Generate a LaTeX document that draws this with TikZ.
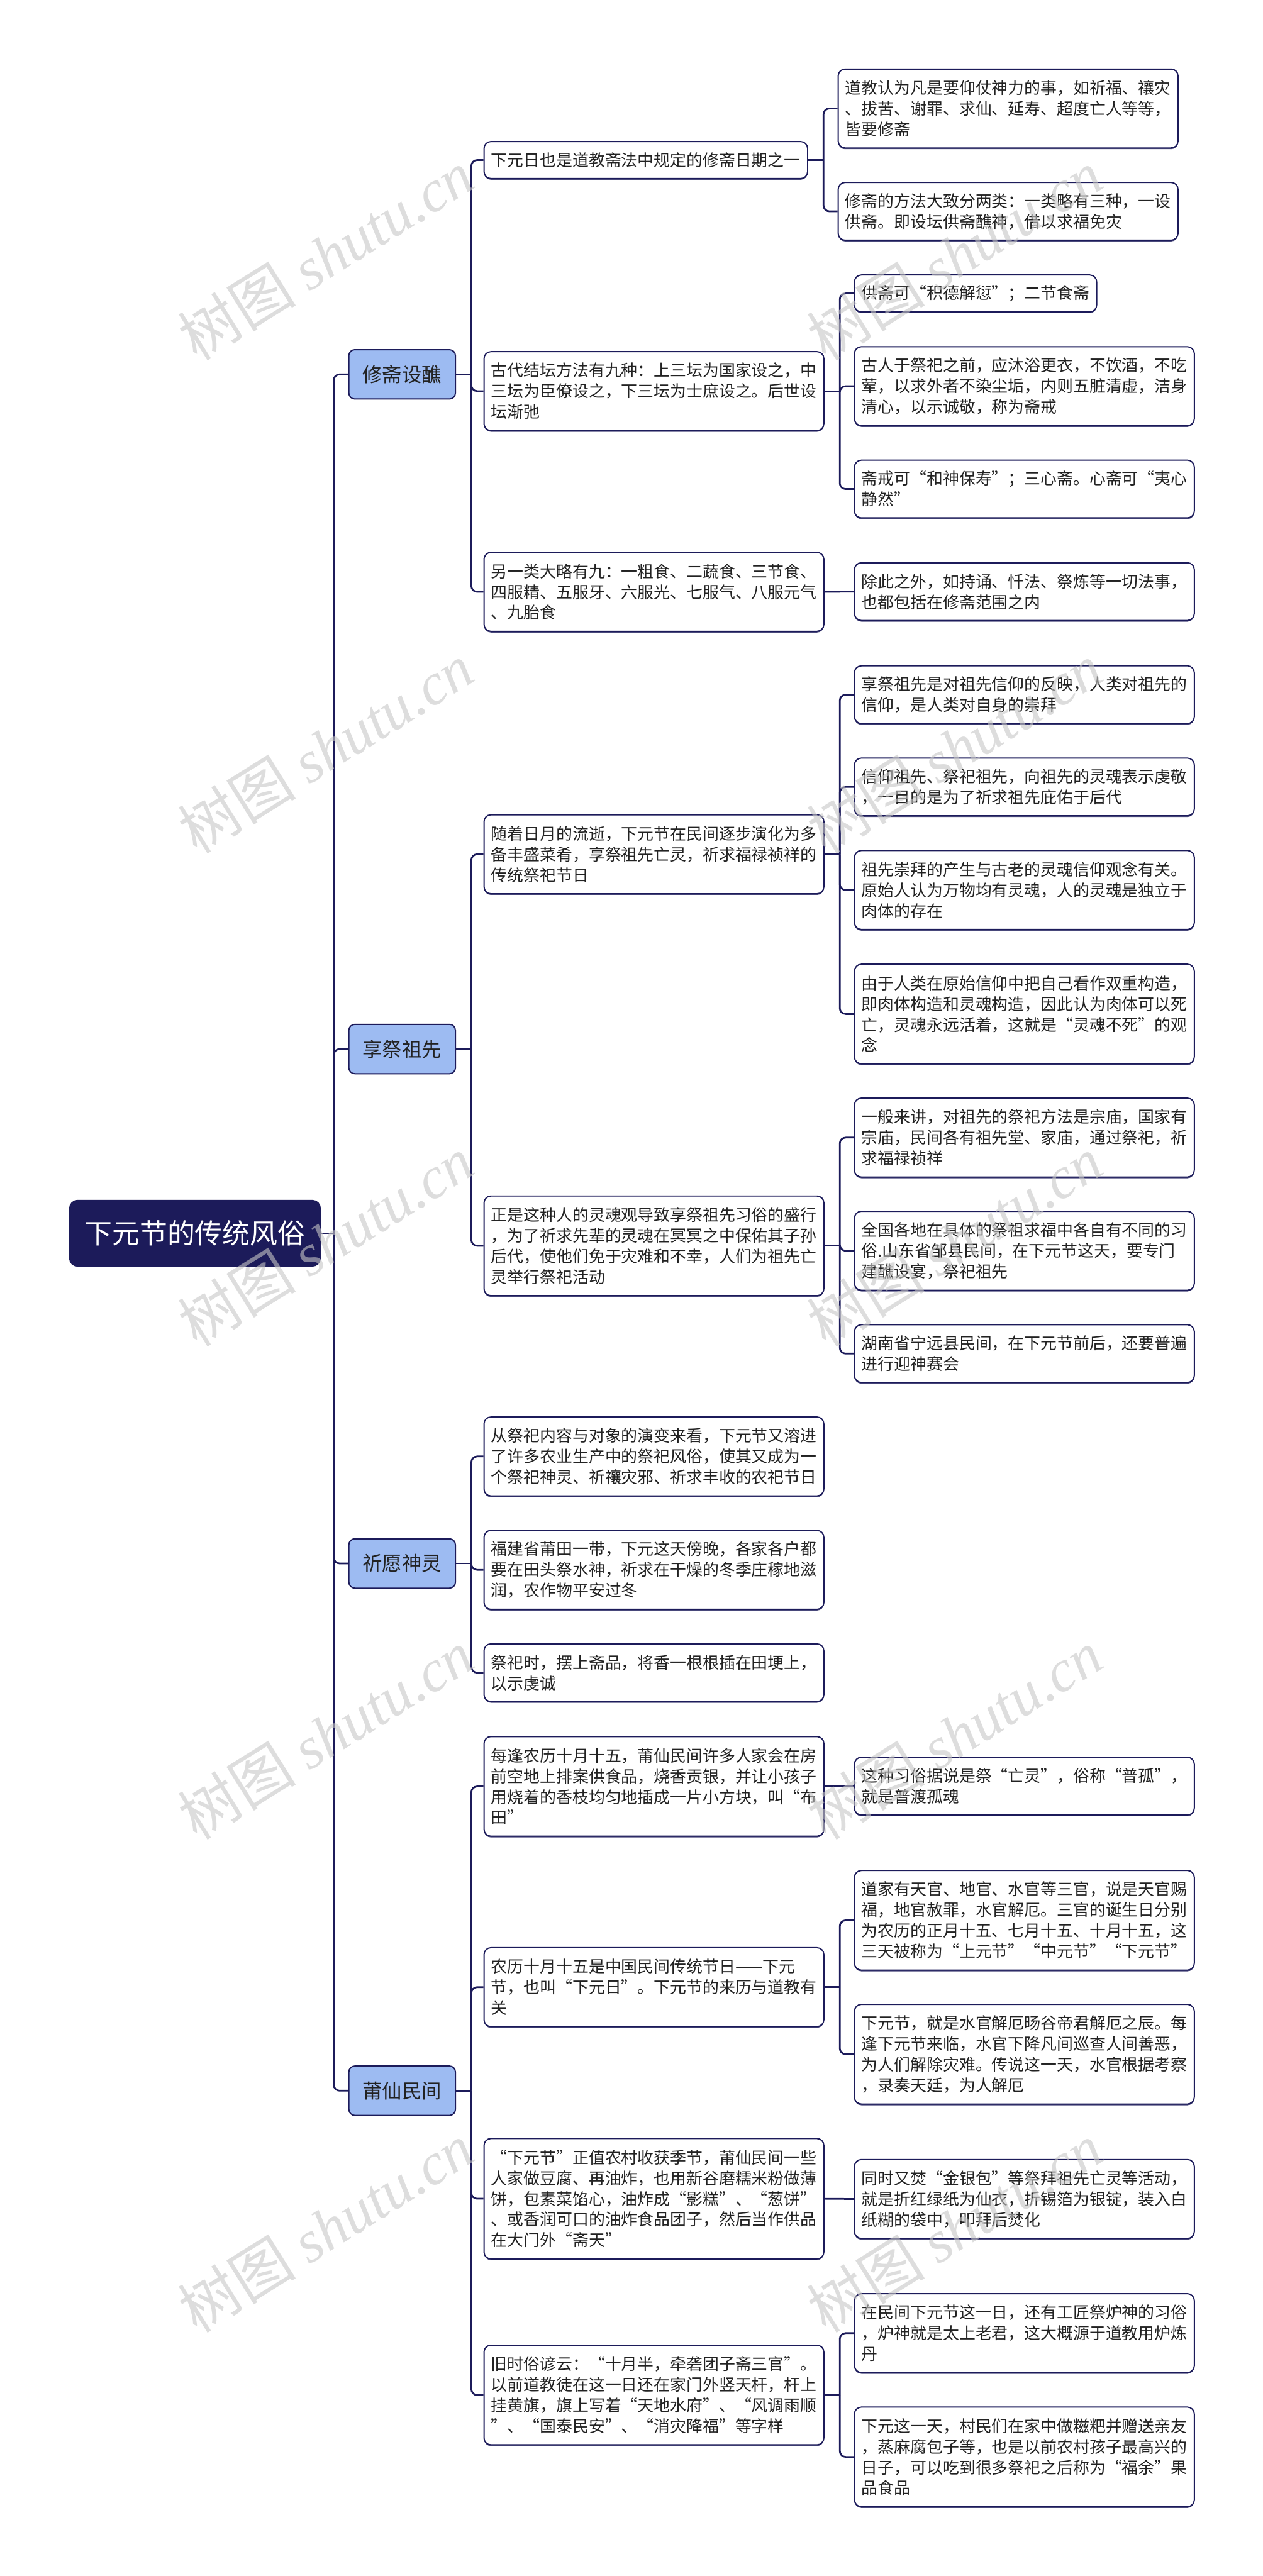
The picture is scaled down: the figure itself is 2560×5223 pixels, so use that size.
\documentclass[tikz,border=0pt]{standalone}
\usepackage{fontspec}
\setmainfont{Noto Sans CJK SC}
\newfontfamily\wmserif{Liberation Serif}
\newfontfamily\wmcjk{Noto Sans CJK SC}
\usetikzlibrary{shadows}
\definecolor{navy}{HTML}{1C1B5A}
\definecolor{lblue}{HTML}{9DBBF2}
\definecolor{txt}{HTML}{222222}
\tikzset{
  box/.style={draw=navy, line width=2.5pt, rounded corners=14pt, fill=white, anchor=west,
    inner xsep=14.5pt, inner ysep=0pt, align=left, text=txt,
    font=\fontsize{33}{42}\selectfont, text width=660pt,
    drop shadow={shadow xshift=0pt, shadow yshift=-2.5pt, fill=navy, opacity=0.8}},
  n1/.style={minimum height=75pt}, n2/.style={minimum height=117pt},
  n3/.style={minimum height=160pt}, n4/.style={minimum height=202pt},
  n5/.style={minimum height=244pt},
  rootbox/.style={draw=navy, fill=navy, line width=2.5pt, rounded corners=16pt, anchor=west,
    minimum width=508pt, minimum height=133pt, text=white, inner sep=0pt,
    font=\fontsize{56}{60}\selectfont},
  lone/.style={draw=navy, fill=lblue, line width=2.5pt, rounded corners=12pt, anchor=west,
    minimum width=216pt, minimum height=100pt, text=txt, inner sep=0pt,
    font=\fontsize{40}{44}\selectfont},
  conn/.style={draw=navy, line width=3.5pt, rounded corners=12pt},
  wm/.style={text=gray!45, opacity=0.6, rotate=32, inner sep=0pt,
    font=\fontsize{120}{120}\selectfont},
}
\begin{document}
\begin{tikzpicture}[x=1pt,y=-1pt]
\useasboundingbox (0,0) rectangle (2560,5223);

% root and level 1
\node[rootbox] (root) at (140,2500.5) {下元节的传统风俗};
\node[lone] (A) at (706,759) {修斋设醮};
\node[lone] (B) at (706,2127) {享祭祖先};
\node[lone] (C) at (706,3170) {祈愿神灵};
\node[lone] (D) at (706,4239) {莆仙民间};

% level 2
\node[box,n1,text width=627pt] (a1) at (980,324.5) {下元日也是道教斋法中规定的修斋日期之一};
\node[box,n3] (a2) at (980,793) {古代结坛方法有九种：上三坛为国家设之，中\\三坛为臣僚设之，下三坛为士庶设之。后世设\\坛渐弛};
\node[box,n3] (a3) at (980,1200) {另一类大略有九：一粗食、二蔬食、三节食、\\四服精、五服牙、六服光、七服气、八服元气\\、九胎食};
\node[box,n3] (b1) at (980,1732) {随着日月的流逝，下元节在民间逐步演化为多\\备丰盛菜肴，享祭祖先亡灵，祈求福禄祯祥的\\传统祭祀节日};
\node[box,n4] (b2) at (980,2526) {正是这种人的灵魂观导致享祭祖先习俗的盛行\\，为了祈求先辈的灵魂在冥冥之中保佑其子孙\\后代，使他们免于灾难和不幸，人们为祖先亡\\灵举行祭祀活动};
\node[box,n3] (c1) at (980,2953) {从祭祀内容与对象的演变来看，下元节又溶进\\了许多农业生产中的祭祀风俗，使其又成为一\\个祭祀神灵、祈禳灾邪、祈求丰收的农祀节日};
\node[box,n3] (c2) at (980,3183) {福建省莆田一带，下元这天傍晚，各家各户都\\要在田头祭水神，祈求在干燥的冬季庄稼地滋\\润，农作物平安过冬};
\node[box,n2] (c3) at (980,3391.5) {祭祀时，摆上斋品，将香一根根插在田埂上，\\以示虔诚};
\node[box,n4] (d1) at (980,3622) {每逢农历十月十五，莆仙民间许多人家会在房\\前空地上排案供食品，烧香贡银，并让小孩子\\用烧着的香枝均匀地插成一片小方块，叫“布\\田”};
\node[box,n3] (d2) at (980,4029) {农历十月十五是中国民间传统节日——下元\\节，也叫“下元日”。下元节的来历与道教有\\关};
\node[box,n5] (d3) at (980,4458) {“下元节”正值农村收获季节，莆仙民间一些\\人家做豆腐、再油炸，也用新谷磨糯米粉做薄\\饼，包素菜馅心，油炸成“影糕”、“葱饼”\\、或香润可口的油炸食品团子，然后当作供品\\在大门外“斋天”};
\node[box,n4] (d4) at (980,4856) {旧时俗谚云：“十月半，牵砻团子斋三官”。\\以前道教徒在这一日还在家门外竖天杆，杆上\\挂黄旗，旗上写着“天地水府”、“风调雨顺\\”、“国泰民安”、“消灾降福”等字样};

% level 3
\node[box,n3] (a11) at (1698,220) {道教认为凡是要仰仗神力的事，如祈福、禳灾\\、拔苦、谢罪、求仙、延寿、超度亡人等等，\\皆要修斋};
\node[box,n2] (a12) at (1698,428.5) {修斋的方法大致分两类：一类略有三种，一设\\供斋。即设坛供斋醮神，借以求福免灾};
\node[box,n1,text width=462pt] (a21) at (1731,595) {供斋可“积德解愆”；二节食斋};
\node[box,n3] (a22) at (1731,783) {古人于祭祀之前，应沐浴更衣，不饮酒，不吃\\荤，以求外者不染尘垢，内则五脏清虚，洁身\\清心，以示诚敬，称为斋戒};
\node[box,n2] (a23) at (1731,991.5) {斋戒可“和神保寿”；三心斋。心斋可“夷心\\静然”};
\node[box,n2] (a31) at (1731,1199.5) {除此之外，如持诵、忏法、祭炼等一切法事，\\也都包括在修斋范围之内};
\node[box,n2] (b11) at (1731,1408.5) {享祭祖先是对祖先信仰的反映，人类对祖先的\\信仰，是人类对自身的崇拜};
\node[box,n2] (b12) at (1731,1595.5) {信仰祖先、祭祀祖先，向祖先的灵魂表示虔敬\\，一目的是为了祈求祖先庇佑于后代};
\node[box,n3] (b13) at (1731,1804.5) {祖先崇拜的产生与古老的灵魂信仰观念有关。\\原始人认为万物均有灵魂，人的灵魂是独立于\\肉体的存在};
\node[box,n4] (b14) at (1731,2056) {由于人类在原始信仰中把自己看作双重构造，\\即肉体构造和灵魂构造，因此认为肉体可以死\\亡，灵魂永远活着，这就是“灵魂不死”的观\\念};
\node[box,n3] (b21) at (1731,2306.5) {一般来讲，对祖先的祭祀方法是宗庙，国家有\\宗庙，民间各有祖先堂、家庙，通过祭祀，祈\\求福禄祯祥};
\node[box,n3] (b22) at (1731,2536) {全国各地在具体的祭祖求福中各自有不同的习\\俗.山东省邹县民间，在下元节这天，要专门\\建醮设宴，祭祀祖先};
\node[box,n2] (b23) at (1731,2744.5) {湖南省宁远县民间，在下元节前后，还要普遍\\进行迎神赛会};
\node[box,n2] (d11) at (1731,3621.5) {这种习俗据说是祭“亡灵”，俗称“普孤”，\\就是普渡孤魂};
\node[box,n4] (d21) at (1731,3893.5) {道家有天官、地官、水官等三官，说是天官赐\\福，地官赦罪，水官解厄。三官的诞生日分别\\为农历的正月十五、七月十五、十月十五，这\\三天被称为“上元节”“中元节”“下元节”};
\node[box,n4] (d22) at (1731,4165) {下元节，就是水官解厄旸谷帝君解厄之辰。每\\逢下元节来临，水官下降凡间巡查人间善恶，\\为人们解除灾难。传说这一天，水官根据考察\\，录奏天廷，为人解厄};
\node[box,n3] (d31) at (1731,4458.5) {同时又焚“金银包”等祭拜祖先亡灵等活动，\\就是折红绿纸为仙衣，折锡箔为银锭，装入白\\纸糊的袋中，叩拜后焚化};
\node[box,n3] (d41) at (1731,4730.5) {在民间下元节这一日，还有工匠祭炉神的习俗\\，炉神就是太上老君，这大概源于道教用炉炼\\丹};
\node[box,n4] (d42) at (1731,4981.5) {下元这一天，村民们在家中做糍粑并赠送亲友\\，蒸麻腐包子等，也是以前农村孩子最高兴的\\日子，可以吃到很多祭祀之后称为“福余”果\\品食品};

% connectors
\draw[conn] (root.east) -- ++(26,0) coordinate (r0);
\foreach \n in {A,B,C,D} \draw[conn] (r0) |- (\n.west);
\draw[conn] (A.east) -- ++(31,0) coordinate (pa);
\foreach \n in {a1,a2,a3} \draw[conn] (pa) |- (\n.west);
\draw[conn] (B.east) -- ++(31,0) coordinate (pb);
\foreach \n in {b1,b2} \draw[conn] (pb) |- (\n.west);
\draw[conn] (C.east) -- ++(31,0) coordinate (pc);
\foreach \n in {c1,c2,c3} \draw[conn] (pc) |- (\n.west);
\draw[conn] (D.east) -- ++(31,0) coordinate (pd);
\foreach \n in {d1,d2,d3,d4} \draw[conn] (pd) |- (\n.west);
\draw[conn] (a1.east) -- ++(31,0) coordinate (qa1);
\foreach \n in {a11,a12} \draw[conn] (qa1) |- (\n.west);
\draw[conn] (a2.east) -- ++(31,0) coordinate (qa2);
\foreach \n in {a21,a22,a23} \draw[conn] (qa2) |- (\n.west);
\draw[conn] (a3.east) -- (a31.west);
\draw[conn] (b1.east) -- ++(31,0) coordinate (qb1);
\foreach \n in {b11,b12,b13,b14} \draw[conn] (qb1) |- (\n.west);
\draw[conn] (b2.east) -- ++(31,0) coordinate (qb2);
\foreach \n in {b21,b22,b23} \draw[conn] (qb2) |- (\n.west);
\draw[conn] (d1.east) -- (d11.west);
\draw[conn] (d2.east) -- ++(31,0) coordinate (qd2);
\foreach \n in {d21,d22} \draw[conn] (qd2) |- (\n.west);
\draw[conn] (d3.east) -- (d31.west);
\draw[conn] (d4.east) -- ++(31,0) coordinate (qd4);
\foreach \n in {d41,d42} \draw[conn] (qd4) |- (\n.west);

% watermarks
\foreach \k in {0,...,4} {
  \node[wm] (wl\k) at (660,517+1000*\k) {\wmcjk 树图 {\wmserif\itshape shutu.cn}};
  \node[wm] (wr\k) at (1935,517+1000*\k) {\wmcjk 树图 {\wmserif\itshape shutu.cn}};
}
\end{tikzpicture}
\end{document}
